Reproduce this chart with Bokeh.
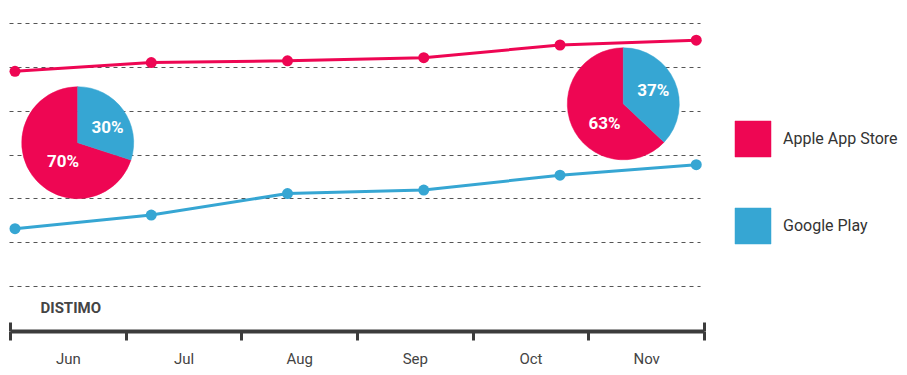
import math
from bokeh.plotting import figure
from bokeh.models import (Range1d, LinearAxis, FixedTicker, Grid, Legend, LegendItem,
                          ColumnDataSource, Label)
from bokeh.core.properties import value
from bokeh.embed import file_html
from bokeh.resources import INLINE

# ---------------- data ----------------
months = ["Jun", "Jul", "Aug", "Sep", "Oct", "Nov"]
apple = [49.1, 51.1, 51.5, 52.2, 55.1, 56.2]
google = [13.2, 16.3, 21.2, 22.0, 25.4, 27.8]
grid_values = [0, 10, 20, 30, 40, 50, 60]
stores = ["Apple App Store", "Google Play"]
share_jun = [70, 30]
share_nov = [63, 37]

# ---------------- style / layout ----------------
RED = "#EE0653"
BLUE = "#36A6D3"
DARK = "#3c3c3c"
FONT = "Roboto"

W, H = 907, 375
FL, FR, FB = 8, 907, 331          # frame left / right / bottom (px)
GL, GR = 9, 700                   # grid line extent (px)
PX0, PXS = 14.5, 136.25           # px of first point, px per month step
Y0PX, YPS = 286.0, 4.383          # px of value 0, px per unit
MB0, MB1 = 10.0, 704.0            # px of first / last month boundary

idx = list(range(len(months)))
x_range = Range1d((FL - PX0) / PXS, (FR - PX0) / PXS)
y_range = Range1d((Y0PX - FB) / YPS, Y0PX / YPS)
mu = (MB1 - MB0) / len(months)
months_range = Range1d(-0.5 - (MB0 - FL) / mu, len(months) - 0.5 + (FR - MB1) / mu)

p = figure(width=W, height=H, x_range=x_range, y_range=y_range,
           x_axis_type=None, y_axis_type=None,
           min_border_left=FL, min_border_right=W - FR, min_border_top=0,
           min_border_bottom=H - FB, toolbar_location=None, output_backend="svg",
           outline_line_color=None, background_fill_color="white",
           border_fill_color="white")
p.extra_x_ranges = {"months": months_range}

# dashed horizontal grid
grid_style = dict(line_color="#555555", line_width=1, line_dash="4 4")
gx0, gx1 = (GL - PX0) / PXS, (GR - PX0) / PXS
if "cross_bounds" in Grid.properties():
    grid = Grid(dimension=1, ticker=FixedTicker(ticks=grid_values),
                cross_bounds=(gx0, gx1),
                grid_line_color=grid_style["line_color"],
                grid_line_width=grid_style["line_width"],
                grid_line_dash=grid_style["line_dash"])
    p.add_layout(grid, "center")
else:
    p.segment(x0=[gx0] * len(grid_values), x1=[gx1] * len(grid_values),
              y0=grid_values, y1=grid_values, **grid_style)

# month axis
bounds_ticks = [i - 0.5 for i in range(len(months) + 1)]
xaxis = LinearAxis(x_range_name="months",
                   ticker=FixedTicker(ticks=idx, minor_ticks=bounds_ticks),
                   bounds=(bounds_ticks[0], bounds_ticks[-1]),
                   major_label_overrides={i: m for i, m in enumerate(months)},
                   axis_line_color=DARK, axis_line_width=4,
                   major_tick_line_color=None, major_tick_out=0, major_tick_in=0,
                   minor_tick_line_color=DARK, minor_tick_line_width=3,
                   minor_tick_out=9, minor_tick_in=0,
                   major_label_standoff=9,
                   major_label_text_font=FONT, major_label_text_font_size="15px",
                   major_label_text_color="#444444")
p.add_layout(xaxis, "below")

# end caps of the axis
caps = [bounds_ticks[0], bounds_ticks[-1]]
p.segment(x0=caps, x1=caps, y0=[y_range.start] * 2,
          y1=[y_range.start + 9 / YPS] * 2, x_range_name="months",
          line_color=DARK, line_width=3)

# lines
p.line(idx, apple, line_color=RED, line_width=3)
p.scatter(idx, apple, size=11, fill_color=RED, line_color=None)
p.line(idx, google, line_color=BLUE, line_width=3)
p.scatter(idx, google, size=11, fill_color=BLUE, line_color=None)

# pies
pie_centers = [((77.2 - PX0) / PXS, (Y0PX - 142.2) / YPS),
               ((622.8 - PX0) / PXS, (Y0PX - 103.3) / YPS)]
label_offsets = [[(-14.7, 17.8), (29.8, -15.7)], [(-18.8, 18.9), (29.9, -14.1)]]
rows = dict(x=[], y=[], start=[], end=[], color=[], store=[], label=[], dx=[], dy=[])
for (cx, cy), shares, offs in zip(pie_centers, [share_jun, share_nov], label_offsets):
    a, g = shares
    split = math.pi / 2 - 2 * math.pi * g / 100
    for store, s, e, col, pct, (dx, dy) in [
            (stores[0], math.pi / 2, split + 2 * math.pi, RED, a, offs[0]),
            (stores[1], split, math.pi / 2, BLUE, g, offs[1])]:
        rows["x"].append(cx); rows["y"].append(cy)
        rows["start"].append(s); rows["end"].append(e)
        rows["color"].append(col); rows["store"].append(store)
        rows["label"].append(f"{pct}%"); rows["dx"].append(dx); rows["dy"].append(dy)
src = ColumnDataSource(rows)
wedges = p.wedge(x="x", y="y", radius=56, radius_units="screen",
                 start_angle="start", end_angle="end", fill_color="color",
                 line_color="color", line_width=0.5, source=src)
p.text(x="x", y="y", text="label", x_offset="dx", y_offset="dy", source=src,
       text_color="white", text_font=value(FONT), text_font_style="bold",
       text_font_size="17px", text_align="center", text_baseline="middle")

# legend
legend = Legend(items=[LegendItem(label=stores[0], renderers=[wedges], index=0),
                       LegendItem(label=stores[1], renderers=[wedges], index=1)],
                location=(722, 83), glyph_width=45, glyph_height=45, spacing=42,
                padding=0, margin=0, border_line_color=None,
                background_fill_alpha=0, label_standoff=8,
                label_text_font=FONT, label_text_font_size="16px",
                label_text_color="#333333")
p.add_layout(legend, "center")

# logo text
p.add_layout(Label(x=32, y=FB - 307.5, x_units="screen", y_units="screen",
                   text="DISTIMO", text_font=FONT, text_font_style="bold",
                   text_font_size="15px", text_color="#444444",
                   text_baseline="middle", text_align="left"))

open("out.html", "w").write(file_html(p, INLINE))
